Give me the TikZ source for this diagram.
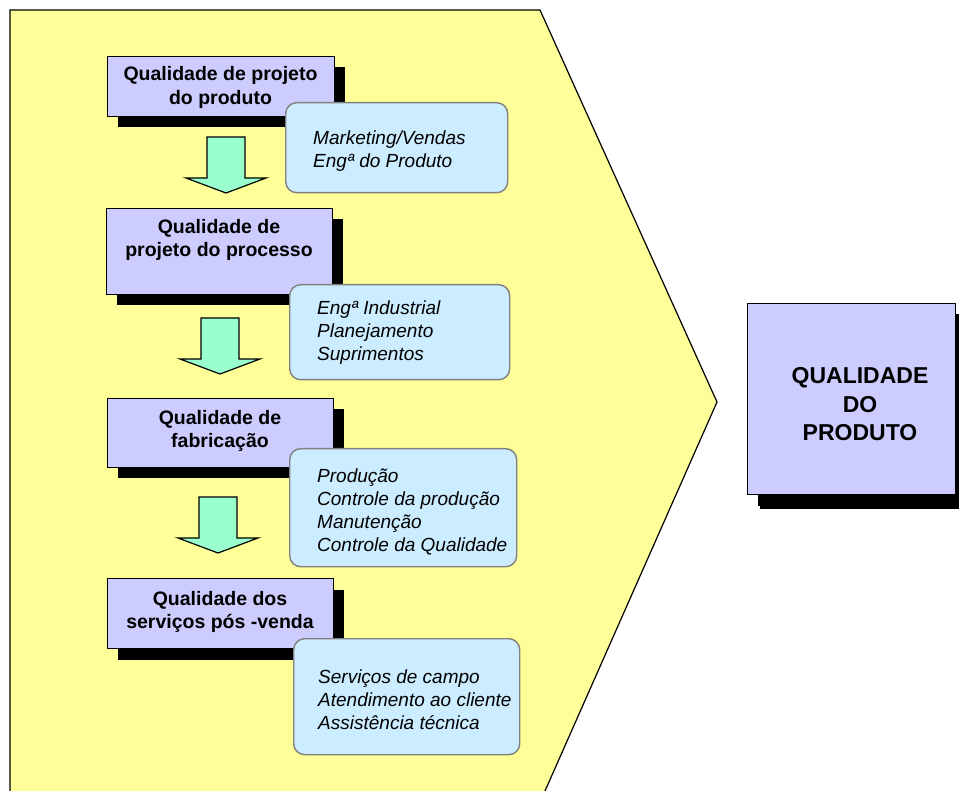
\documentclass[tikz,border=0pt]{standalone}
\usepackage{fontspec}
\setmainfont{Liberation Sans}
\usetikzlibrary{shadows}
\definecolor{yel}{HTML}{FFFF99}
\definecolor{purp}{HTML}{CCCCFF}
\definecolor{lblue}{HTML}{CCECFF}
\definecolor{grn}{HTML}{99FFCC}
\definecolor{bordgray}{HTML}{808080}
\begin{document}
\begin{tikzpicture}[x=1pt,y=-1pt,
  pbox/.style={draw=black, line width=1pt, fill=purp, anchor=north west, inner sep=0pt,
    drop shadow={fill=black, opacity=1, shadow xshift=10pt, shadow yshift=-11pt}},
  ptext/.style={font=\bfseries\fontsize{19.5}{23.5}\selectfont, align=center, inner sep=0pt},
  bigtext/.style={font=\bfseries\fontsize{23}{28.5}\selectfont, align=center, inner sep=0pt},
  bbox/.style={draw=bordgray, line width=1.4pt, fill=lblue, rounded corners=11pt, anchor=north west, inner sep=0pt},
  btext/.style={font=\itshape\fontsize{19}{23}\selectfont, align=left, anchor=west, inner sep=0pt},
  garrow/.style={draw=black, line width=1.2pt, fill=grn, line join=miter},
  downarr/.pic={\draw[garrow] (-19,0) -- (19,0) -- (19,41) -- (40,41) -- (0,56) -- (-40,41) -- (-19,41) -- cycle;}
]
\useasboundingbox (0,0) rectangle (959,791);
\clip (0,0) rectangle (959,791);
\fill[white] (0,0) rectangle (959,791);

% big yellow pentagon
\draw[fill=yel, line width=1.2pt, line join=miter] (10,800) -- (10,10) -- (540,10) -- (717,402) -- (541,800);

% purple boxes
\node[pbox, minimum width=227pt, minimum height=60pt] (q1) at (107,56) {};
\node[ptext] (q1t) at (220.5,87.5) {Qualidade de projeto\\do produto};

\node[pbox, minimum width=226pt, minimum height=86pt] (q2) at (106,208) {};
\node[ptext] (q2t) at (219,240) {Qualidade de\\projeto do processo};

\node[pbox, minimum width=226pt, minimum height=69pt] (q3) at (107,398) {};
\node[ptext] (q3t) at (220,431) {Qualidade de\\fabricação};

\node[pbox, minimum width=226pt, minimum height=70pt] (q4) at (107,578) {};
\node[ptext] (q4t) at (220,612) {Qualidade dos\\serviços pós -venda};

% result box
\node[pbox, drop shadow={fill=black, opacity=1, shadow xshift=12pt, shadow yshift=-14pt}, minimum width=208pt, minimum height=191pt] (qp) at (747,303) {};
\node[bigtext] (qpt) at (860,404.5) {QUALIDADE\\DO\\PRODUTO};

% arrows
\pic at (226,137) {downarr};
\pic at (220,318) {downarr};
\pic at (218,497) {downarr};

% blue boxes
\node[bbox, minimum width=222pt, minimum height=90pt] (d1) at (285,102) {};
\node[btext] (d1t) at (313,151.5) {Marketing/Vendas\\Engª do Produto};

\node[bbox, minimum width=220pt, minimum height=95pt] (d2) at (289,284) {};
\node[btext] (d2t) at (317,333) {Engª Industrial\\Planejamento\\Suprimentos};

\node[bbox, minimum width=227pt, minimum height=118pt] (d3) at (289,448) {};
\node[btext] (d3t) at (317,512) {Produção\\Controle da produção\\Manutenção\\Controle da Qualidade};

\node[bbox, minimum width=226pt, minimum height=116pt] (d4) at (293,638) {};
\node[btext] (d4t) at (318,700) {Serviços de campo\\Atendimento ao cliente\\Assistência técnica};
\end{tikzpicture}
\end{document}
